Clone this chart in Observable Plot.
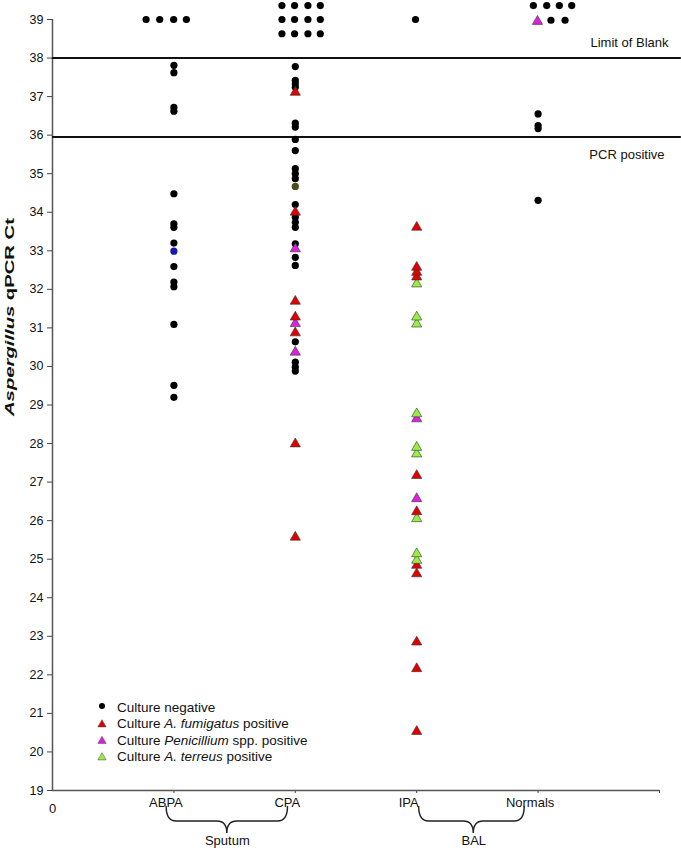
<!DOCTYPE html>
<html><head><meta charset="utf-8">
<script src="https://cdn.jsdelivr.net/npm/d3@7"></script>
<script src="https://cdn.jsdelivr.net/npm/@observablehq/plot@0.6"></script>
<style>
body{margin:0;background:#fff;}
#chart{position:relative;width:681px;height:853px;}
svg text{font-family:"Liberation Sans",Arial,sans-serif;}
</style>
</head><body><div id="chart"></div>
<script>
// ---- categories ----
const groups = ["ABPA", "CPA", "IPA", "Normals"];
const groupPos = [1, 2, 3, 4];
const zeroLabel = ["0"];
const yTicks = d3.range(19, 40);

// ---- thresholds ----
const thresholdValues = [38, 35.95];
const thresholdLabels = ["Limit of Blank", "PCR positive"];

// ---- Ct values per group and culture result ----
// ABPA
const abpaNeg = [37.81, 37.62, 36.72, 36.62, 34.48, 33.70, 33.61, 33.20, 32.59, 32.19, 32.07, 31.09, 29.51, 29.20];
const abpaBlue = [32.99];
// CPA
const cpaNeg = [37.78, 37.42, 37.33, 37.24, 36.31, 36.21, 35.89, 35.60, 35.13, 35.00, 34.87, 34.20, 33.87, 33.74, 33.61, 33.18, 32.83, 32.62, 30.64, 30.11, 29.98, 29.88];
const cpaOlive = [34.67];
const cpaFum = [37.11, 34.00, 31.69, 31.28, 30.87, 27.99, 25.57];
const cpaPen = [33.05, 31.11, 30.37];
// IPA
const ipaFum = [33.61, 32.57, 32.44, 32.32, 27.17, 26.23, 24.84, 24.62, 22.85, 22.16, 20.53];
const ipaTer = [32.14, 31.28, 31.10, 28.77, 27.90, 27.73, 26.05, 25.14, 24.97];
const ipaPen = [28.64, 26.57];
// Normals
const normNeg = [36.55, 36.25, 36.17, 34.31];

// ---- not detected (plotted as a cluster around Ct 39) ----
const ndAbpaX = [0.771, 0.883, 0.998, 1.103];
const ndAbpaY = [39, 39, 39, 39];
const ndCpaX = [1.89, 1.994, 2.104, 2.206, 1.89, 1.994, 2.104, 2.206, 1.89, 1.994, 2.104, 2.206];
const ndCpaY = [39.36, 39.36, 39.36, 39.36, 39, 39, 39, 39, 38.63, 38.63, 38.63, 38.63];
const ndIpaX = [2.99];
const ndIpaY = [39];
const ndNormX = [3.961, 4.071, 4.175, 4.277, 4.106, 4.222];
const ndNormY = [39.36, 39.36, 39.36, 39.36, 38.98, 38.98];
const ndNormPenX = [3.995];
const ndNormPenY = [38.95];

// ---- braces ----
const braceLabels = ["Sputum", "BAL"];
const braceFrom = [0.94, 3.02];
const braceTo = [1.94, 3.89];
const braceMid = [1.44, 3.47];

// ---- legend ----
const legendKeys = ["neg", "fum", "pen", "ter"];
const legendParts = [
  [["Culture negative", false]],
  [["Culture ", false], ["A. fumigatus", true], [" positive", false]],
  [["Culture ", false], ["Penicillium", true], [" spp. positive", false]],
  [["Culture ", false], ["A. terreus", true], [" positive", false]]
];

// ---- build tables ----
const rows = [];
function add(xs, ys, culture) { ys.forEach((v, i) => rows.push({x: Array.isArray(xs) ? xs[i] : xs, ct: v, culture})); }
add(1, abpaNeg, "neg"); add(1, abpaBlue, "blue");
add(2, cpaNeg, "neg"); add(2, cpaOlive, "olive"); add(2, cpaFum, "fum"); add(2, cpaPen, "pen");
add(3, ipaFum, "fum"); add(3, ipaTer, "ter"); add(3, ipaPen, "pen");
add(4, normNeg, "neg");
add(ndAbpaX, ndAbpaY, "neg"); add(ndCpaX, ndCpaY, "neg"); add(ndIpaX, ndIpaY, "neg");
add(ndNormX, ndNormY, "neg"); add(ndNormPenX, ndNormPenY, "pen");

const circleCultures = new Set(["neg", "blue", "olive"]);
const dotRows = rows.filter(d => circleCultures.has(d.culture));
const triRows = rows.filter(d => !circleCultures.has(d.culture)).sort((a, b) => a.ct - b.ct);

const catTable = groups.map((g, i) => ({name: g, pos: groupPos[i]}));
const braceTable = braceLabels.map((l, i) => ({label: l, from: braceFrom[i], to: braceTo[i], mid: braceMid[i]}));
const thrTable = thresholdValues.map((v, i) => ({value: v, label: thresholdLabels[i]}));

const colorDomain = ["neg", "fum", "pen", "ter", "blue", "olive"];
const colorRange = ["#000000", "#e00000", "#dd22dd", "#99ee44", "#1a1aaa", "#4a4a1a"];
const colorOf = Object.fromEntries(colorDomain.map((k, i) => [k, colorRange[i]]));

const FONT = '"Liberation Sans", Arial, sans-serif';

function bracesMark(index, scales, values, dims) {
  const g = d3.create("svg:g").attr("fill", "none").attr("stroke", "#222").attr("stroke-width", 1.4);
  const y0 = scales.y(19);
  for (const b of braceTable) {
    const x0 = scales.x(b.from), x1 = scales.x(b.to), xm = scales.x(b.mid);
    const yTop = y0 + 16, yMid = y0 + 31, yTip = y0 + 43, r = 10;
    const p = d3.path();
    p.moveTo(x0, yTop);
    p.quadraticCurveTo(x0, yMid, x0 + r, yMid);
    p.lineTo(xm - r, yMid);
    p.quadraticCurveTo(xm, yMid, xm, yTip);
    p.quadraticCurveTo(xm, yMid, xm + r, yMid);
    p.lineTo(x1 - r, yMid);
    p.quadraticCurveTo(x1, yMid, x1, yTop);
    g.append("path").attr("d", p.toString());
  }
  return g.node();
}

function yLabelMark(index, scales, values, dims) {
  const t = d3.create("svg:text")
    .attr("transform", "translate(14,317) rotate(-90)")
    .attr("text-anchor", "middle")
    .attr("font-weight", "bold")
    .attr("font-size", 13)
    .attr("textLength", 198)
    .attr("lengthAdjust", "spacingAndGlyphs")
    .attr("fill", "#111")
    .style("font-family", FONT);
  t.append("tspan").attr("font-style", "italic").text("Aspergillus");
  t.append("tspan").text(" qPCR Ct");
  return t.node();
}

function legendMark(index, scales, values, dims) {
  const g = d3.create("svg:g").style("font-family", FONT).attr("text-anchor", "start");
  const rowY = [707, 723.5, 740, 756.5];
  legendKeys.forEach((k, i) => {
    const y = rowY[i];
    if (k === "neg") {
      g.append("circle").attr("cx", 102).attr("cy", y - 1).attr("r", 3).attr("fill", colorOf[k]);
    } else {
      g.append("path").attr("transform", `translate(102,${y + 1})`)
        .attr("d", d3.symbol(d3.symbolTriangle, 30)())
        .attr("fill", colorOf[k]).attr("stroke", "#444").attr("stroke-width", 0.5);
    }
    const t = g.append("text").attr("x", 117).attr("y", y).attr("dy", "0.35em")
      .attr("text-anchor", "start")
      .attr("font-size", 13.5).attr("fill", "#111");
    for (const [s, it] of legendParts[i]) {
      const sp = t.append("tspan").text(s);
      if (it) sp.attr("font-style", "italic");
    }
  });
  return g.node();
}

const plot = Plot.plot({
  width: 681, height: 853,
  marginTop: 19, marginBottom: 63, marginLeft: 52, marginRight: 22,
  x: {domain: [0, 5], axis: null},
  y: {domain: [19, 39], axis: null},
  color: {domain: colorDomain, range: colorRange},
  style: {fontFamily: FONT, fontSize: "12px", background: "#fff", overflow: "visible", color: "#111"},
  marks: [
    Plot.axisY({ticks: yTicks, tickSize: 5, tickPadding: 4, label: null, fontSize: 12.5, stroke: "#444"}),
    Plot.axisX({ticks: [1, 2, 3, 4, 5], tickSize: 3, label: null, fill: "none", stroke: "#444"}),
    Plot.ruleX([0], {y1: 19, y2: 39, stroke: "#555", strokeWidth: 1.5}),
    Plot.ruleY([19], {x1: 0, x2: 5, stroke: "#555", strokeWidth: 1.5}),
    Plot.ruleY(thrTable, {y: "value", x1: 0, x2: 5.18, stroke: "#111", strokeWidth: 2}),
    Plot.text(thrTable.slice(0, 1), {y: "value", text: "label", frameAnchor: "right", textAnchor: "end", dx: 9, dy: -15, fontSize: 13, fill: "#111"}),
    Plot.text(thrTable.slice(1), {y: "value", text: "label", frameAnchor: "right", textAnchor: "end", dx: 5, dy: 18, fontSize: 13, fill: "#111"}),
    Plot.text(catTable, {x: "pos", text: "name", frameAnchor: "bottom", dy: 16, dx: -8, fontSize: 13, fill: "#111"}),
    Plot.text(zeroLabel, {x: 0, text: d => d, frameAnchor: "bottom", dy: 22, fontSize: 13, fill: "#111"}),
    Plot.text(braceTable, {x: "mid", text: "label", frameAnchor: "bottom", dy: 54, fontSize: 13, fill: "#111"}),
    Plot.dot(dotRows, {x: "x", y: "ct", r: 3.6, fill: "culture", stroke: null}),
    Plot.dot(triRows, {x: "x", y: "ct", symbol: "triangle", r: 3.8, fill: "culture", stroke: "#333", strokeWidth: 0.6}),
    bracesMark,
    yLabelMark,
    legendMark
  ]
});
document.getElementById("chart").appendChild(plot);
</script>
</body></html>
